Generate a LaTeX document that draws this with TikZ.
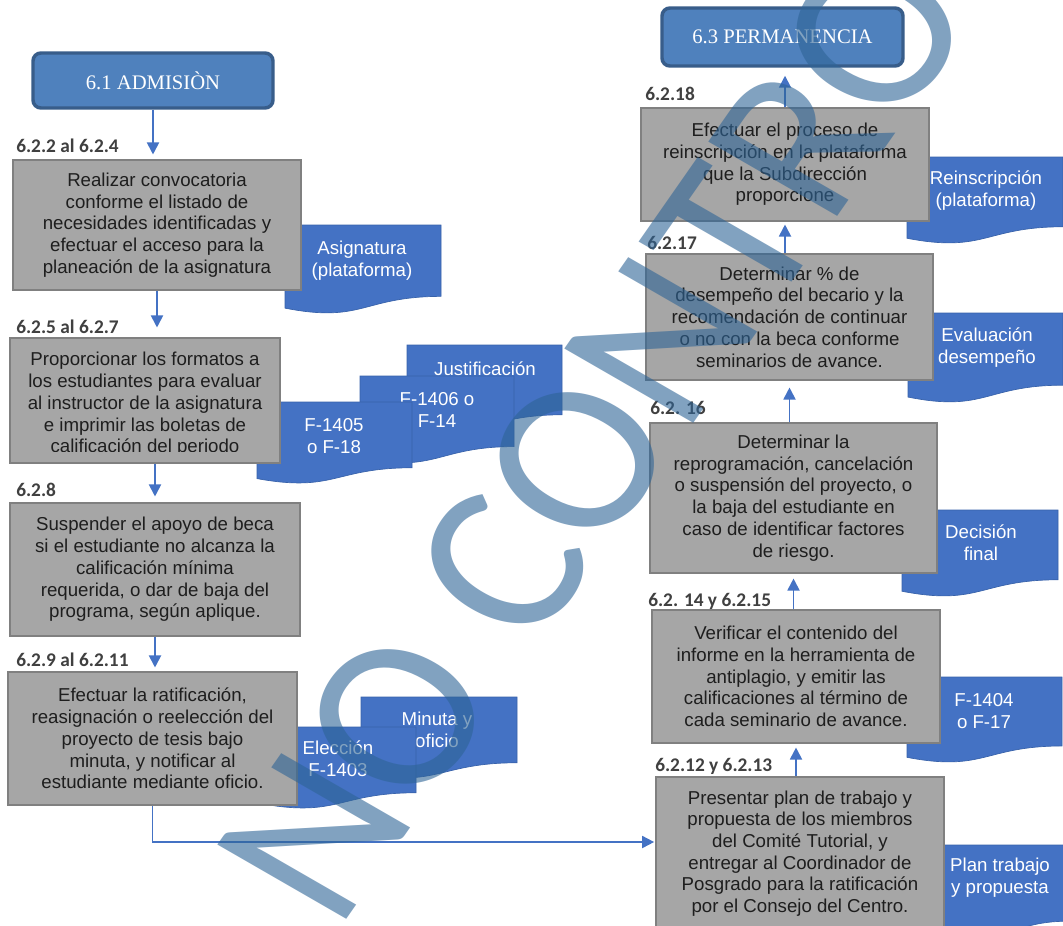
\documentclass[tikz,border=0pt]{standalone}
\usepackage{fontspec}
\newfontfamily\arialf{Liberation Sans}
\newfontfamily\timesf{Liberation Serif}
\newfontfamily\calib{Carlito}
\usetikzlibrary{arrows.meta,calc}
\definecolor{boxfill}{RGB}{166,166,166}
\definecolor{boxdraw}{RGB}{128,128,128}
\definecolor{boxtext}{RGB}{30,30,30}
\definecolor{docfill}{RGB}{68,114,196}
\definecolor{docdraw}{RGB}{56,98,170}
\definecolor{headfill}{RGB}{79,129,189}
\definecolor{headdraw}{RGB}{56,93,138}
\definecolor{arrowblue}{RGB}{68,114,196}
\definecolor{labeltext}{RGB}{64,64,64}
\definecolor{wmark}{RGB}{46,100,150}
\tikzset{
 stepbox/.style={draw=boxdraw, fill=boxfill, line width=0.8pt, inner sep=0pt, align=center, text=boxtext, font=\arialf\fontsize{14}{16.3}\selectfont},
 boxtxt/.style={inner sep=0pt, align=center, text=boxtext, font=\arialf\fontsize{14}{16.3}\selectfont},
 header/.style={draw=headdraw, fill=headfill, line width=2.6pt, rounded corners=6pt, inner sep=0pt, text=white, font=\timesf\fontsize{15.5}{18}\selectfont},
 doctext/.style={text=white, align=center, inner sep=0pt, font=\arialf\fontsize{14}{16.5}\selectfont},
 docshape/.style={fill=docfill, draw=docdraw, line width=0.5pt},
 steplabel/.style={anchor=west, inner sep=0pt, text=labeltext, font=\calib\bfseries\fontsize{14.5}{16}\selectfont},
 flow/.style={draw=arrowblue, line width=1.4pt, -{Triangle[width=9pt,length=9pt]}},
 watermark/.style={text=wmark, text opacity=0.6, inner sep=0pt, font=\calib\fontsize{178.5}{178.5}\selectfont}
}
% rectangle node from corner coordinates (in px)
\newcommand\rectnode[6]{\node[#1, minimum width={(#4-#2)*0.75pt}, minimum height={(#5-#3)*0.75pt}] (#6) at ({(#2+#4)/2},{(#3+#5)/2})}
% document shape: x y w h
\newcommand\docpath[4]{\path[docshape] (#1,#2) -- ({#1+#3},#2) -- ({#1+#3},{#2+0.802*#4}) .. controls ({#1+0.5*#3},{#2+0.802*#4}) and ({#1+0.5*#3},{#2+1.107*#4}) .. (#1,{#2+0.934*#4}) -- cycle;}
\begin{document}
\begin{tikzpicture}[x=0.75pt,y=-0.75pt]
\useasboundingbox (0,0) rectangle (1063,925);
\clip (0,0) rectangle (1063,925);
\fill[white] (0,0) rectangle (1063,925);

% ---------- documents (behind boxes) ----------
\docpath{407}{345}{155}{87}
\node[doctext] (Djust) at (485,369) {Justificación};
\docpath{360}{376}{154}{88}
\node[doctext] (Df1406) at (437,410) {F-1406 o\\F-14};
\docpath{257}{402}{155}{82}
\node[doctext] (Df1405) at (334,436) {F-1405\\o F-18};
\docpath{285}{225}{156}{89}
\node[doctext] (Dasig) at (362,261) {Asignatura\\(plataforma)};
\docpath{361}{697}{156}{82}
\node[doctext] (Dmin) at (437,730) {Minuta y\\oficio};
\docpath{261}{727}{155}{82}
\node[doctext] (Delec) at (338,759) {Elección\\F-1403};
\docpath{907}{157}{156}{87}
\node[doctext] (Dreins) at (986,191) {Reinscripción\\(plataforma)};
\docpath{908}{313}{155}{90}
\node[doctext] (Deval) at (987,348) {Evaluación\\desempeño};
\docpath{902}{510}{156}{87}
\node[doctext] (Ddec) at (981,543) {Decisión\\final};
\docpath{907}{677}{155}{86}
\node[doctext] (Df1404) at (984,711) {F-1404\\o F-17};
\docpath{943}{845}{125}{95}
\node[doctext] (Dplan) at (1000,878) {Plan trabajo\\y propuesta};

% ---------- headers ----------
\rectnode{header}{33}{53}{273}{108}{A} {6.1 ADMISIÒN};
\rectnode{header}{662}{8}{903}{66}{PERM} {6.3 PERMANENCIA};

% ---------- left column ----------
\rectnode{stepbox}{13}{160}{301}{290}{B1} {Realizar convocatoria\\conforme el listado de\\necesidades identificadas y\\efectuar el acceso para la\\planeación de la asignatura};
\rectnode{stepbox}{10}{338}{280}{463}{B2} {};
\begin{scope}
\clip (10,338) rectangle (280,451);
\node[boxtxt] (B2t) at (145,404.5) {Proporcionar los formatos a\\los estudiantes para evaluar\\al instructor de la asignatura\\e imprimir las boletas de\\calificación del periodo};
\end{scope}
\rectnode{stepbox}{10}{503}{300}{636}{B3} {Suspender el apoyo de beca\\si el estudiante no alcanza la\\calificación mínima\\requerida, o dar de baja del\\programa, según aplique.};
\rectnode{stepbox}{8}{672}{297}{805}{B4} {Efectuar la ratificación,\\reasignación o reelección del\\proyecto de tesis bajo\\minuta, y notificar al\\estudiante mediante oficio.};

\node[steplabel] (L1) at (16,146) {6.2.2 al 6.2.4};
\node[steplabel] (L2) at (16,327) {6.2.5 al 6.2.7};
\node[steplabel] (L3) at (16,490) {6.2.8};
\node[steplabel] (L4) at (16,660) {6.2.9 al 6.2.11};

% ---------- right column ----------
\rectnode{stepbox}{641}{108}{929}{221}{R1} {Efectuar el proceso de\\reinscripción en la plataforma\\que la Subdirección\\proporcione};
\rectnode{stepbox}{646}{254}{933}{380}{R2} {Determinar \% de\\desempeño del becario y la\\recomendación de continuar\\o no con la beca conforme\\seminarios de avance.};
\rectnode{stepbox}{650}{423}{937}{573}{R3} {Determinar la\\reprogramación, cancelación\\o suspensión del proyecto, o\\la baja del estudiante en\\caso de identificar factores\\de riesgo.};
\rectnode{stepbox}{652}{610}{940}{743}{R4} {Verificar el contenido del\\informe en la herramienta  de\\antiplagio, y emitir las\\calificaciones al término de\\cada seminario de avance.};
\rectnode{stepbox}{656}{777}{944}{930}{P} {Presentar plan de trabajo y\\propuesta de los miembros\\del Comité Tutorial, y\\entregar al Coordinador de\\Posgrado para la ratificación\\por el Consejo del Centro.};

\node[steplabel] (L5) at (645,94) {6.2.18};
\node[steplabel] (L6) at (647,243) {6.2.17};
\node[steplabel] (L7) at (650,408) {6.2. 16};
\node[steplabel] (L8) at (648,601) {6.2. 14 y 6.2.15};
\node[steplabel] (L9) at (655,766) {6.2.12 y 6.2.13};

% ---------- connectors ----------
\draw[flow, shorten >=3.75pt] (A.south) -- (A.south |- B1.north);
\draw[flow, shorten >=7.5pt] (B1.south) -- (B1.south |- B2.north);
\draw[flow, shorten >=4.5pt] (B2.south -| B3.north) -- (B3.north);
\draw[flow, shorten >=3pt] (B3.south) -- (B3.south |- B4.north);
\draw[flow, shorten >=1pt] (B4.south) |- (P.west |- 0,842);
\draw[flow, shorten >=3pt] (R4.south |- P.north) -- (R4.south);
\draw[flow, shorten >=3.75pt] (R3.south |- R4.north) -- (R3.south);
\draw[flow, shorten >=5.25pt] (R2.south |- R3.north) -- (R2.south);
\draw[flow, shorten >=2.25pt] (R1.south |- R2.north) -- (R1.south);
\draw[flow, shorten >=6pt] (R1.north) -- (R1.north |- PERM.south);

% ---------- watermark ----------
\node[watermark, anchor=base west, yscale=0.908, rotate=57.6] (WM) at (337,933) {NO CONTRO};
\end{tikzpicture}
\end{document}
